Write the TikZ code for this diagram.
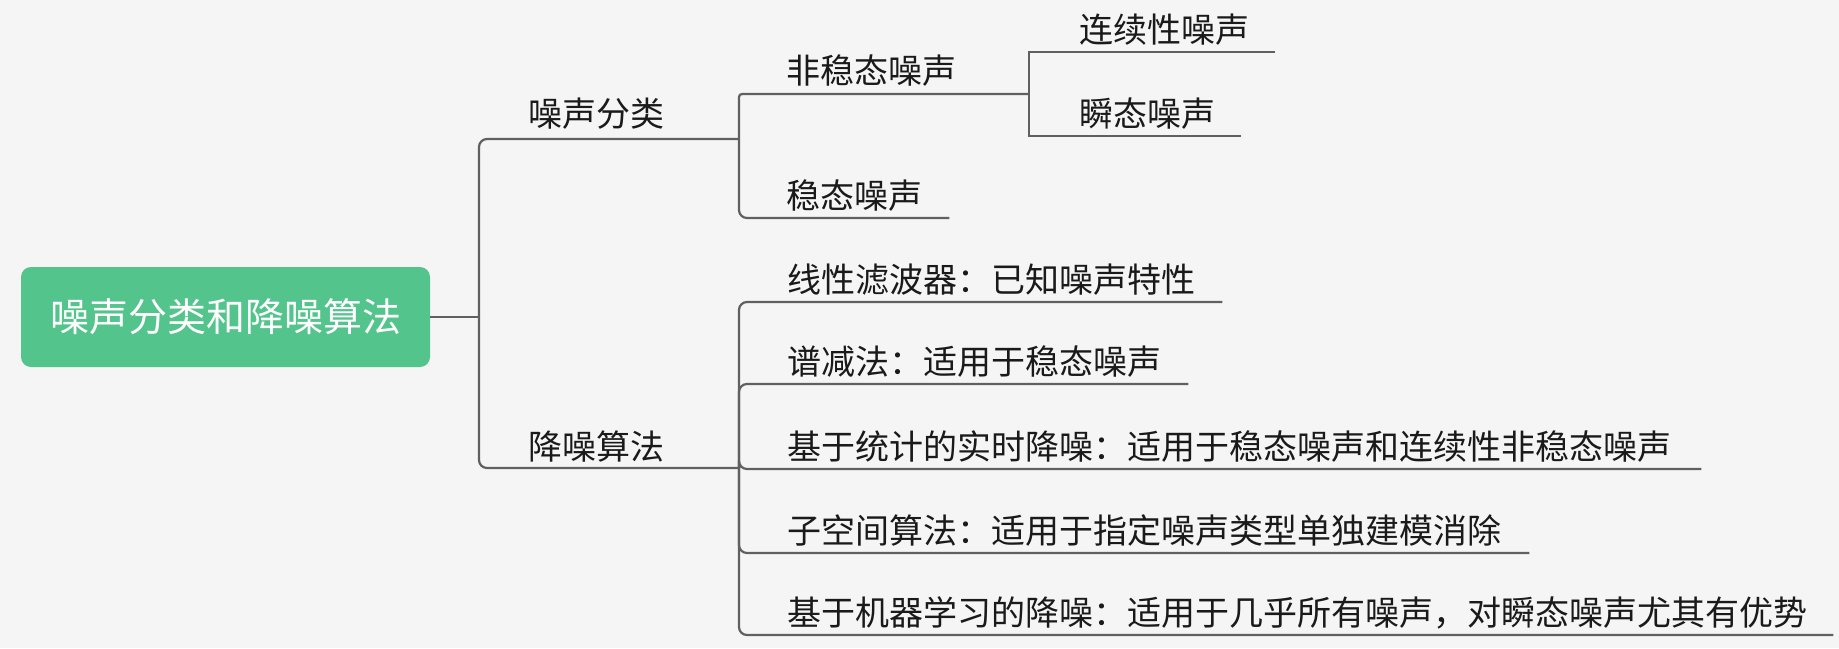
\documentclass[tikz,border=0pt]{standalone}
\usepackage{fontspec}
\setmainfont{Noto Sans CJK SC}
\usepackage{xcolor}
\usetikzlibrary{positioning, calc}

\definecolor{bgcol}{HTML}{F5F5F5}
\definecolor{rootgreen}{HTML}{52C48C}
\definecolor{linegray}{HTML}{606060}
\definecolor{inkcol}{HTML}{1A1A1A}

\begin{document}
\begin{tikzpicture}[x=1pt, y=-1pt,
    root/.style={rectangle, rounded corners=10pt, fill=rootgreen, text=white,
        minimum width=409pt, minimum height=100pt, inner sep=0pt,
        font=\fontsize{39pt}{44pt}\selectfont},
    topic/.style={anchor=base west, inner sep=0pt, text=inkcol,
        font=\fontsize{34pt}{40pt}\selectfont},
    branch/.style={draw=linegray, line width=2.2pt, rounded corners=8pt},
    sharp/.style={rounded corners=0pt}]
    \fill[bgcol] (0,0) rectangle (1839,648);
    \useasboundingbox (0,0) rectangle (1839,648);

    % main topic
    \node[root] (root) at (225.5,317) {噪声分类和降噪算法};

    % junctions
    \coordinate (j0) at (479,317);
    \coordinate (j1) at (739,139);
    \coordinate (j2) at (739,468);
    \coordinate (j3) at (1029,94);

    % first level
    \node[topic] (cls) at (528,126) {噪声分类};
    \node[topic] (alg) at (528,459) {降噪算法};

    % noise kinds
    \node[topic] (unsteady) at (786,83) {非稳态噪声};
    \node[topic] (steady) at (786,208) {稳态噪声};
    \node[topic] (cont) at (1079,42) {连续性噪声};
    \node[topic] (trans) at (1079,126) {瞬态噪声};

    % algorithms
    \node[topic] (lin) at (787,292) {线性滤波器：已知噪声特性};
    \node[topic] (spec) at (787,374) {谱减法：适用于稳态噪声};
    \node[topic] (stat) at (787,459) {基于统计的实时降噪：适用于稳态噪声和连续性非稳态噪声};
    \node[topic] (sub) at (787,543) {子空间算法：适用于指定噪声类型单独建模消除};
    \node[topic] (ml) at (787,625) {基于机器学习的降噪：适用于几乎所有噪声，对瞬态噪声尤其有优势};

    \draw[branch] (root.east) -- (j0);
    \draw[branch] (j0) |- (j1);
    \draw[branch] (j0) |- (j2);

    \draw[branch, rounded corners=3pt] (j1) |- (j3);
    \draw[branch] (j1) |- ([shift={(27pt,-10pt)}]steady.base east);
    \draw[branch, sharp] (j3) |- ([shift={(26pt,-10pt)}]cont.base east);
    \draw[branch, sharp] (j3) |- ([shift={(26pt,-10pt)}]trans.base east);

    \draw[branch] (j2) |- ([shift={(27pt,-10pt)}]lin.base east);
    \draw[branch] (j2) |- ([shift={(27pt,-10pt)}]spec.base east);
    \draw[branch] (j2) |- ([shift={(30pt,-10pt)}]stat.base east);
    \draw[branch] (j2) |- ([shift={(28pt,-10pt)}]sub.base east);
    \draw[branch] (j2) |- ([shift={(26pt,-10pt)}]ml.base east);
\end{tikzpicture}
\end{document}
